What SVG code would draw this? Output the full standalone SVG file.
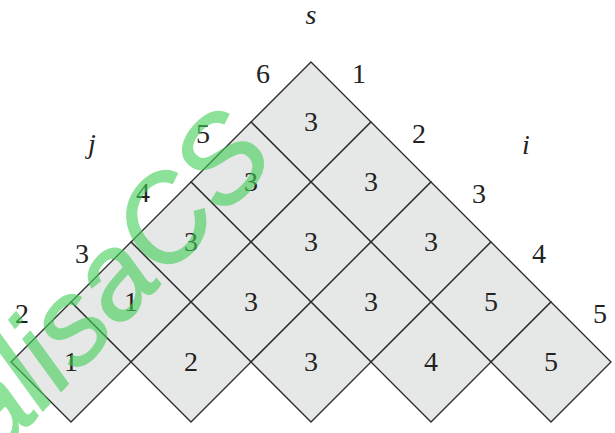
<svg xmlns="http://www.w3.org/2000/svg" width="615" height="433" viewBox="0 0 615 433">
<defs>
<path id="d" d="M0,-60 L60,0 L0,60 L-60,0 Z" fill="#e6e7e7" stroke="#2b2b2b" stroke-width="1.3"/>
</defs>
<rect width="615" height="433" fill="#fff"/>
<g id="cells" font-family="Liberation Serif, serif" font-size="28" fill="#222" text-anchor="middle">
<g id="c11"><use href="#d" x="311" y="122"/><text x="311" y="131">3</text></g>
<g id="c21"><use href="#d" x="251" y="182"/><text x="251" y="191">3</text></g>
<g id="c22"><use href="#d" x="371" y="182"/><text x="371" y="191">3</text></g>
<g id="c31"><use href="#d" x="191" y="242"/><text x="191" y="251">3</text></g>
<g id="c32"><use href="#d" x="311" y="242"/><text x="311" y="251">3</text></g>
<g id="c33"><use href="#d" x="431" y="242"/><text x="431" y="251">3</text></g>
<g id="c41"><use href="#d" x="131" y="302"/><text x="131" y="311">1</text></g>
<g id="c42"><use href="#d" x="251" y="302"/><text x="251" y="311">3</text></g>
<g id="c43"><use href="#d" x="371" y="302"/><text x="371" y="311">3</text></g>
<g id="c44"><use href="#d" x="491" y="302"/><text x="491" y="311">5</text></g>
<g id="c51"><use href="#d" x="71" y="362"/><text x="71" y="371">1</text></g>
<g id="c52"><use href="#d" x="191" y="362"/><text x="191" y="371">2</text></g>
<g id="c53"><use href="#d" x="311" y="362"/><text x="311" y="371">3</text></g>
<g id="c54"><use href="#d" x="431" y="362"/><text x="431" y="371">4</text></g>
<g id="c55"><use href="#d" x="551" y="362"/><text x="551" y="371">5</text></g>
</g>
<g id="connectors"/>
<g id="labels" font-family="Liberation Serif, serif" font-size="28" fill="#222" text-anchor="middle">
<text x="311" y="24" font-style="italic">s</text>
<text x="92" y="153" font-style="italic">j</text>
<text x="526" y="154" font-style="italic">i</text>
<text x="263" y="83">6</text>
<text x="203" y="143">5</text>
<text x="143" y="202">4</text>
<text x="82" y="263">3</text>
<text x="22" y="323">2</text>
<text x="359" y="83">1</text>
<text x="419" y="143">2</text>
<text x="479" y="203">3</text>
<text x="539" y="263">4</text>
<text x="600" y="323">5</text>
</g>
<g id="watermark" opacity="0.6">
<text font-family="Liberation Sans, sans-serif" font-size="120" font-style="italic" fill="rgb(67,207,88)" stroke="rgb(67,207,88)" stroke-width="1.5" transform="translate(-4,461) rotate(-47)">alisaCS</text>
</g>
</svg>
